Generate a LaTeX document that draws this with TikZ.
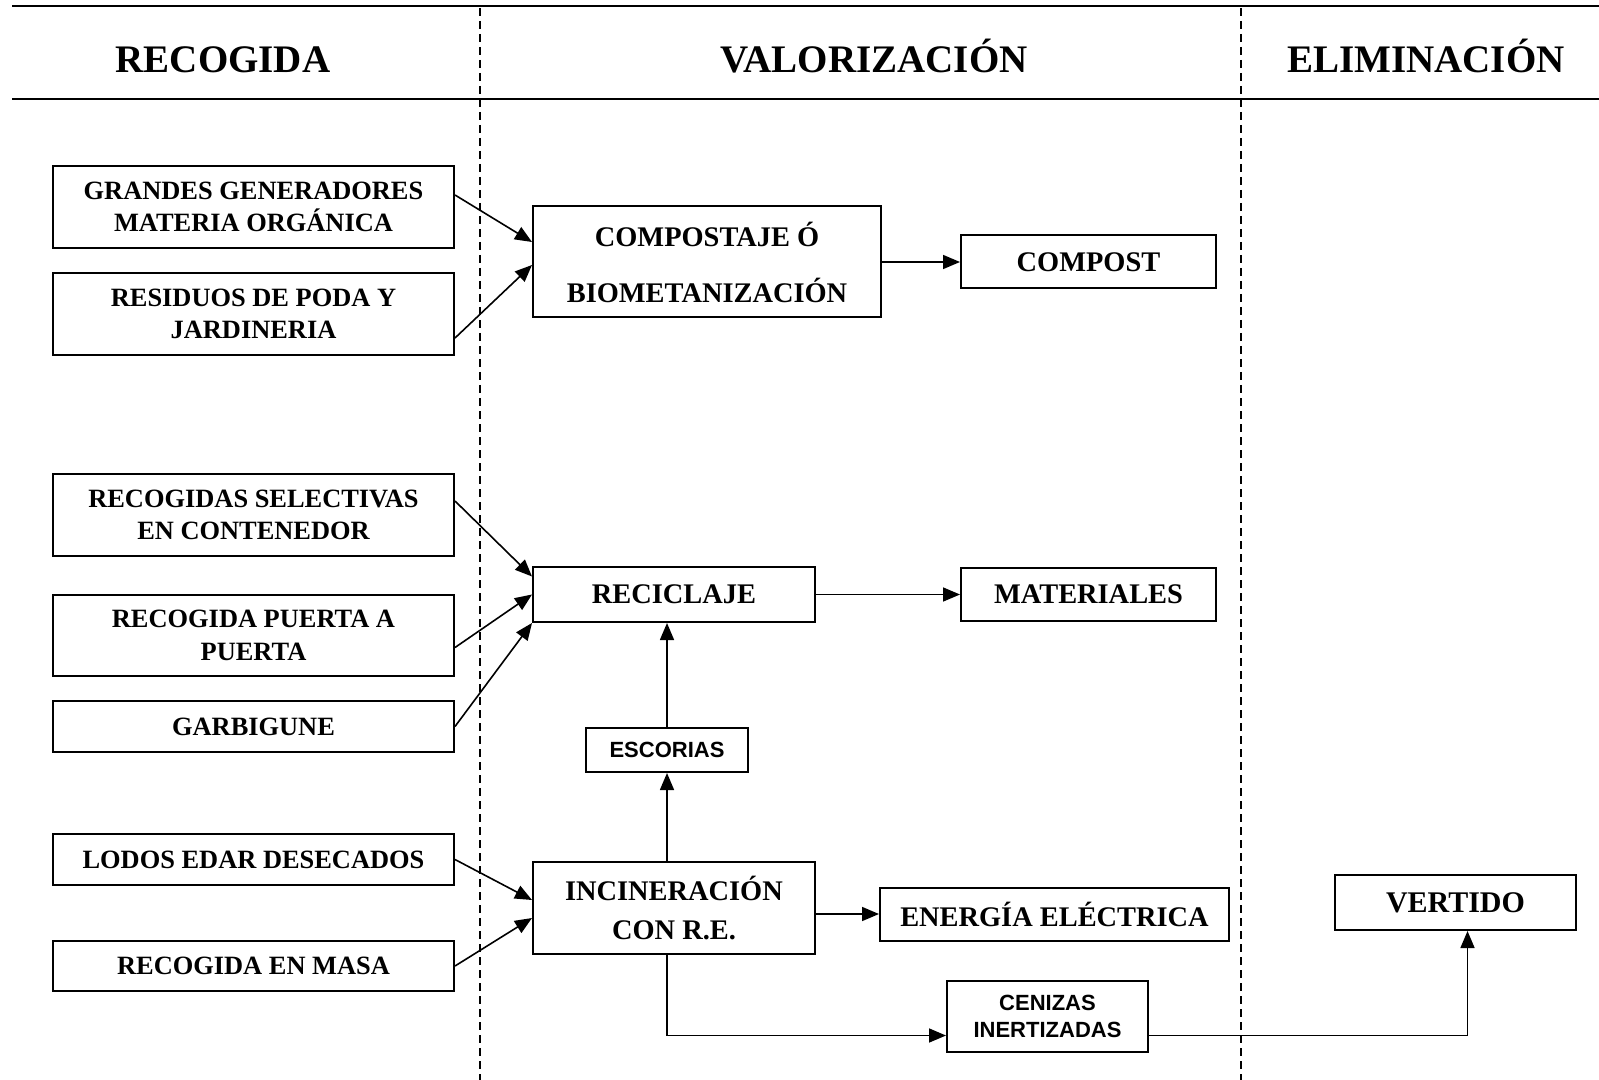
\documentclass[tikz,border=0pt]{standalone}
\usepackage{fontspec}
\setmainfont{Liberation Serif}
\setsansfont{Liberation Sans}
\usetikzlibrary{arrows.meta,positioning}

\begin{document}
\begin{tikzpicture}[x=0.5pt,y=-0.5pt,
	every node/.style={align=center,
					   inner sep=0pt,
					   font=\bfseries
					   },
	src/.style={draw, line width=1pt,
				minimum width=200.5pt,
				font={\fontsize{13.2}{16.3}\selectfont\bfseries}
	},
	proc/.style={draw, line width=1pt,
				 font={\fontsize{14.2}{19.4}\selectfont\bfseries}
	},
	aux/.style={draw, line width=1pt,
				font={\fontsize{11}{13.3}\selectfont\sffamily\bfseries}
	},
	head/.style={anchor=base, font={\fontsize{19.5}{23}\selectfont\bfseries}},
	flow/.style={-{Triangle[length=8.5pt,width=7pt]}, line width=0.8pt},
	lane/.style={dash pattern=on 4pt off 2.5pt, line width=0.6pt}
]
	\useasboundingbox (0,0) rectangle (1599,1080);
	\draw[line width=1pt] (12,6) -- (1599,6);
	\draw[line width=1pt] (12,99) -- (1599,99);
	\draw[lane] (480,8) -- (480,1080);
	\draw[lane] (1241,8) -- (1241,1080);

	\node (hrec) [head] at (223,73) {RECOGIDA};
	\node (hval) [head] at (874,73) {VALORIZACIÓN};
	\node (helim) [head] at (1426,73) {ELIMINACIÓN};

	\node (grandes) [src, minimum height=41pt] at (253.5,207) {GRANDES GENERADORES\\ MATERIA ORGÁNICA};
	\node (poda) [src, minimum height=41pt] at (253.5,314) {RESIDUOS DE PODA Y\\ JARDINERIA};
	\node (selectivas) [src, minimum height=41pt] at (253.5,515) {RECOGIDAS SELECTIVAS\\ EN CONTENEDOR};
	\node (puerta) [src, minimum height=40.5pt] at (253.5,635.5) {RECOGIDA PUERTA A\\ PUERTA};
	\node (garbigune) [src, minimum height=25.5pt] at (253.5,726.5) {GARBIGUNE};
	\node (lodos) [src, minimum height=25.5pt] at (253.5,859.5) {LODOS EDAR DESECADOS};
	\node (masa) [src, minimum height=25pt] at (253.5,966) {RECOGIDA EN MASA};

	\node (compostaje) [proc, minimum width=174pt, minimum height=55.5pt,
		font={\fontsize{14.2}{28}\selectfont\bfseries}] at (707,262) {COMPOSTAJE Ó\\ BIOMETANIZACIÓN};
	\node (compost) [proc, minimum width=127.5pt, minimum height=26.5pt] at (1088.5,262) {COMPOST};
	\node (reciclaje) [proc, minimum width=141pt, minimum height=27.5pt] at (674,594.5) {RECICLAJE};
	\node (materiales) [proc, minimum width=127.5pt, minimum height=26.5pt] at (1088.5,594.5) {MATERIALES};
	\node (escorias) [aux, minimum width=81pt, minimum height=22pt] at (667,750) {ESCORIAS};
	\node (incineracion) [proc, minimum width=141pt, minimum height=46pt] at (674,908) {INCINERACIÓN\\ CON R.E.};
	\node (energia) [proc, minimum width=174.5pt, minimum height=26.5pt] at (1054.5,914) {ENERGÍA ELÉCTRICA};
	\node (cenizas) [aux, minimum width=100.5pt, minimum height=35.5pt] at (1047.5,1016.5) {CENIZAS\\ INERTIZADAS};
	\node (vertido) [proc, minimum width=120.5pt, minimum height=27.5pt,
		font={\fontsize{15}{18}\selectfont\bfseries}] at (1455.5,902.5) {VERTIDO};

	\draw[flow] ([yshift=6pt]grandes.east) -- ([yshift=10pt]compostaje.west);
	\draw[flow] ([yshift=-12pt]poda.east) -- ([yshift=-1.5pt]compostaje.west);
	\draw[flow] (compostaje) -- (compost);
	\draw[flow] ([yshift=7pt]selectivas.east) -- ([yshift=9pt]reciclaje.west);
	\draw[flow] ([yshift=-6pt]puerta.east) -- (reciclaje.west);
	\draw[flow] (garbigune.east) -- (reciclaje.south west);
	\draw[flow] (reciclaje) -- (materiales);
	\draw[flow] (escorias.north) -- (escorias.north |- reciclaje.south);
	\draw[flow] (incineracion.north -| escorias) -- (escorias.south);
	\draw[flow] (lodos.east) -- ([yshift=4pt]incineracion.west);
	\draw[flow] (masa.east) -- ([yshift=-5pt]incineracion.west);
	\draw[flow] (incineracion.east |- energia.west) -- (energia.west);
	\draw[flow] (incineracion.south -| escorias) |- ([yshift=-9.5pt]cenizas.west);
	\draw[flow] ([yshift=-9.5pt]cenizas.east) -| ([xshift=6pt]vertido.south);
\end{tikzpicture}
\end{document}
